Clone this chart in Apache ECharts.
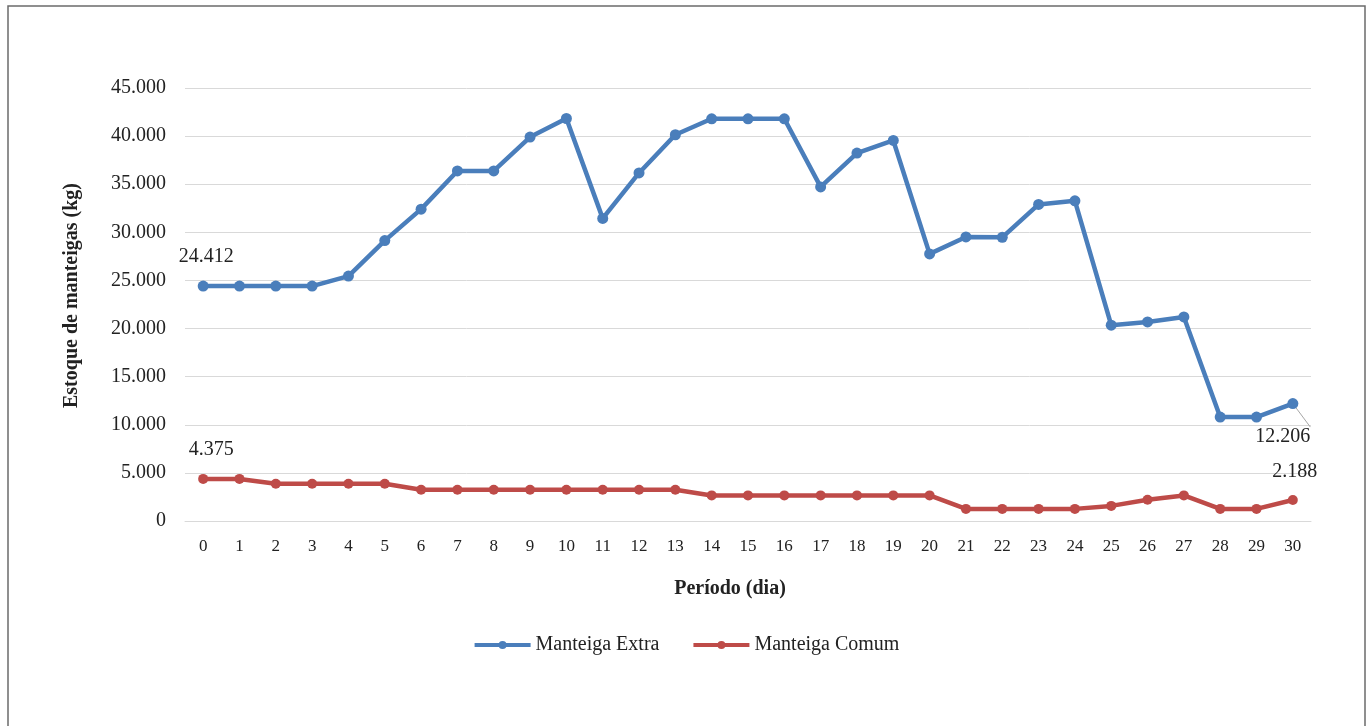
<!DOCTYPE html>
<html>
<head>
<meta charset="utf-8">
<script src="https://cdn.jsdelivr.net/npm/echarts@6/dist/echarts.min.js"></script>
<style>
  html, body { margin: 0; padding: 0; background: #ffffff; }
  #chart { width: 1372px; height: 726px; }
</style>
</head>
<body>
<div id="chart"></div>
<script>
// Dias do período (0 a 30)
const dias = ['0','1','2','3','4','5','6','7','8','9','10','11','12','13','14','15','16','17','18','19','20','21','22','23','24','25','26','27','28','29','30'];

// Estoque diário de manteiga (kg)
const mantExtra = [24412, 24412, 24412, 24412, 25450, 29140, 32410, 36380, 36380, 39900, 41830, 31450, 36170, 40140, 41800, 41800, 41800, 34720, 38240, 39550, 27760, 29520, 29480, 32900, 33280, 20350, 20690, 21210, 10800, 10800, 12206];
const mantComum = [4375, 4375, 3880, 3880, 3880, 3880, 3250, 3250, 3250, 3250, 3250, 3250, 3250, 3250, 2660, 2660, 2660, 2660, 2660, 2660, 2660, 1260, 1260, 1260, 1260, 1570, 2200, 2660, 1260, 1260, 2188];

const nomesSeries = ['Manteiga Extra', 'Manteiga Comum'];
const eixoY = { min: 0, max: 45000, passo: 5000 };

const FONTE = '"Liberation Serif", "Times New Roman", serif';
const AZUL = '#4A7EBB';
const VERMELHO = '#BE4B48';

// Formato numérico brasileiro: separador de milhar com ponto
function fmt(v) {
  return String(Math.round(v)).replace(/\B(?=(\d{3})+(?!\d))/g, '.');
}

// Rótulos apenas no primeiro e no último ponto de cada série
function comRotulos(valores, ini, fim) {
  return valores.map((v, i) => {
    if (i === 0) return Object.assign({ value: v }, ini);
    if (i === valores.length - 1) return Object.assign({ value: v }, fim);
    return v;
  });
}

const rotuloBase = {
  show: true,
  color: '#222',
  fontFamily: FONTE,
  fontSize: 20,
  formatter: p => fmt(p.value)
};
const rot = extra => Object.assign({}, rotuloBase, extra);

const chart = echarts.init(document.getElementById('chart'));
chart.setOption({
  backgroundColor: '#ffffff',
  animation: false,
  textStyle: { fontFamily: FONTE, color: '#222' },
  graphic: [{
    type: 'rect',
    shape: { x: 8, y: 6, width: 1357, height: 740 },
    style: { fill: 'none', stroke: '#6b6b6b', lineWidth: 1.5 },
    silent: true
  }],
  grid: { left: 185, right: 61, top: 88, bottom: 205 },
  legend: {
    data: nomesSeries,
    bottom: 66,
    left: 'center',
    itemWidth: 56,
    itemHeight: 10,
    itemGap: 32,
    lineStyle: { width: 4 },
    textStyle: { fontFamily: FONTE, fontSize: 20, color: '#222' }
  },
  xAxis: {
    type: 'category',
    data: dias,
    boundaryGap: true,
    name: 'Período (dia)',
    nameLocation: 'middle',
    nameGap: 58,
    nameTextStyle: { fontFamily: FONTE, fontSize: 20, fontWeight: 'bold', color: '#222', padding: [0, 36, 0, 0] },
    axisLine: { show: true, lineStyle: { color: '#d9d9d9', width: 1 } },
    axisTick: { show: false },
    axisLabel: { margin: 17, fontFamily: FONTE, fontSize: 17, color: '#222', interval: 0 }
  },
  yAxis: {
    type: 'value',
    min: eixoY.min,
    max: eixoY.max,
    interval: eixoY.passo,
    name: 'Estoque de manteigas (kg)',
    nameLocation: 'middle',
    nameGap: 103,
    nameTextStyle: { fontFamily: FONTE, fontSize: 20, fontWeight: 'bold', color: '#222', padding: [0, 0, 0, 18] },
    axisLine: { show: false },
    axisTick: { show: false },
    splitLine: { show: true, lineStyle: { color: '#d9d9d9', width: 1 } },
    axisLabel: { margin: 19, fontFamily: FONTE, fontSize: 20, color: '#222', formatter: v => fmt(v) }
  },
  series: [
    {
      name: nomesSeries[0],
      type: 'line',
      data: comRotulos(mantExtra,
        { label: rot({ position: 'top', distance: 14, offset: [3, 0] }), labelLine: { show: false } },
        { label: rot({ position: 'bottom', distance: 12, offset: [-10, 6] }),
          labelLine: { show: true, lineStyle: { color: '#a6a6a6', width: 1 } } }
      ),
      symbol: 'circle',
      symbolSize: 11,
      lineStyle: { color: AZUL, width: 4.5 },
      itemStyle: { color: AZUL },
      label: { show: false },
      z: 3
    },
    {
      name: nomesSeries[1],
      type: 'line',
      data: comRotulos(mantComum,
        { label: rot({ position: 'top', distance: 14, offset: [8, 0] }) },
        { label: rot({ position: 'top', distance: 13, offset: [2, 0] }) }
      ),
      symbol: 'circle',
      symbolSize: 10,
      lineStyle: { color: VERMELHO, width: 4.5 },
      itemStyle: { color: VERMELHO },
      label: { show: false },
      z: 2
    }
  ]
});
</script>
</body>
</html>
